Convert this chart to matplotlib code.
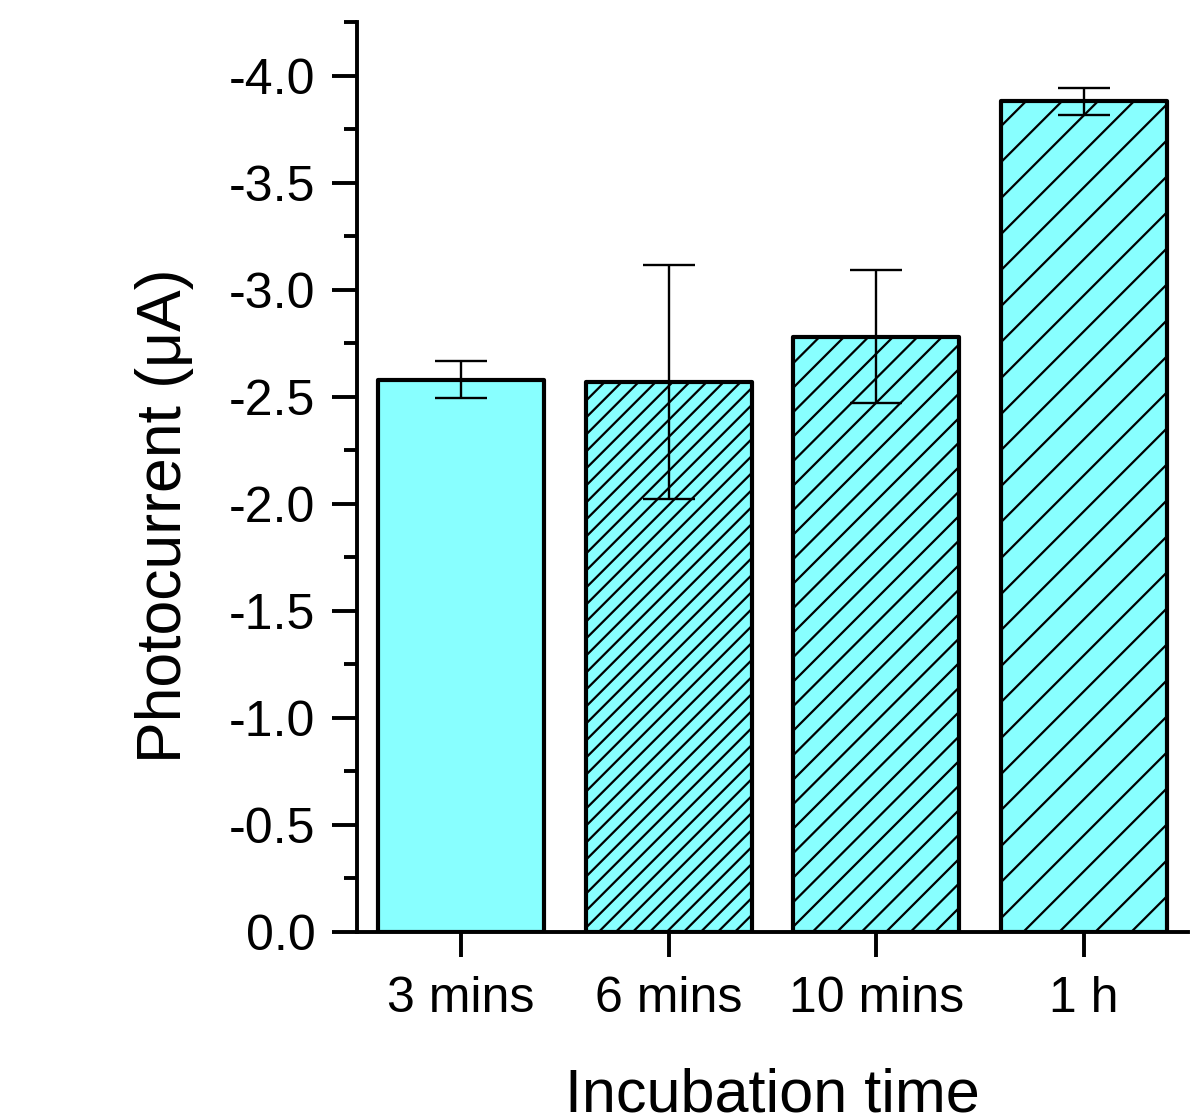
import numpy as np
import matplotlib.pyplot as plt
from matplotlib.collections import LineCollection
from matplotlib.transforms import IdentityTransform
from matplotlib.ticker import MultipleLocator, FormatStrFormatter

plt.rcParams['font.family'] = ['Liberation Sans', 'DejaVu Sans']
plt.rcParams['axes.unicode_minus'] = False

# data
times = ['3 mins', '6 mins', '10 mins', '1 h']
current = [-2.58, -2.57, -2.78, -3.88]
current_err = [0.087, 0.547, 0.31, 0.063]

# hatch line spacing in pixels (0 = no hatch)
hatch_gap = [0, 17, 24.5, 36]

fig = plt.figure(figsize=(11.9, 11.18), dpi=100)
ax = fig.add_axes([0.3, 0.16637, 0.6983, 0.81395])

x = np.arange(len(times))
bars = ax.bar(x, current, width=0.8, color='#88ffff', edgecolor='none', zorder=1)
ax.bar(x, current, width=0.8, fill=False, edgecolor='black', linewidth=3,
       joinstyle='round', zorder=3)
ax.errorbar(x, current, yerr=current_err, fmt='none', ecolor='black',
            elinewidth=1.7, capsize=19, capthick=1.7, zorder=4)

ax.set_xlim(-0.5, 3.5)
ax.set_ylim(0, -4.25)
ax.set_xticks(x)
ax.set_xticklabels(times)
ax.yaxis.set_major_locator(MultipleLocator(0.5))
ax.yaxis.set_minor_locator(MultipleLocator(0.25))
ax.yaxis.set_major_formatter(FormatStrFormatter('%.1f'))

for s in ['top', 'right']:
    ax.spines[s].set_visible(False)
for s in ['left', 'bottom']:
    ax.spines[s].set_linewidth(2.8)

ax.tick_params(axis='both', which='major', direction='out', length=18, width=2.8,
               labelsize=36)
ax.tick_params(axis='y', which='major', pad=12)
ax.tick_params(axis='x', which='major', pad=14)
ax.tick_params(axis='y', which='minor', direction='out', length=9.5, width=2.8)

# manual diagonal hatching with different densities per bar
for i, b in enumerate(bars):
    gap = hatch_gap[i]
    if not gap:
        continue
    p = ax.transData.transform([[b.get_x(), 0],
                                [b.get_x() + b.get_width(), b.get_height()]])
    bx0, bx1 = p[0, 0], p[1, 0]
    ylo, yhi = min(p[0, 1], p[1, 1]), max(p[0, 1], p[1, 1])
    cs = np.arange(ylo - bx1, yhi - bx0 + gap, gap)
    segs = [[(bx0, bx0 + c), (bx1, bx1 + c)] for c in cs]
    lc = LineCollection(segs, colors='black', linewidths=1.6,
                        transform=IdentityTransform(), zorder=2)
    ax.add_collection(lc, autolim=False)
    lc.set_clip_path(b)

fig.text(164 / 1190, 1 - 516 / 1118, 'Photocurrent (\u03bcA)', rotation=90,
         ha='center', va='center', fontsize=45)
fig.text(772 / 1190, 1 - 1112 / 1118, 'Incubation time', ha='center',
         va='baseline', fontsize=44)

fig.savefig('out.png', dpi=100)
